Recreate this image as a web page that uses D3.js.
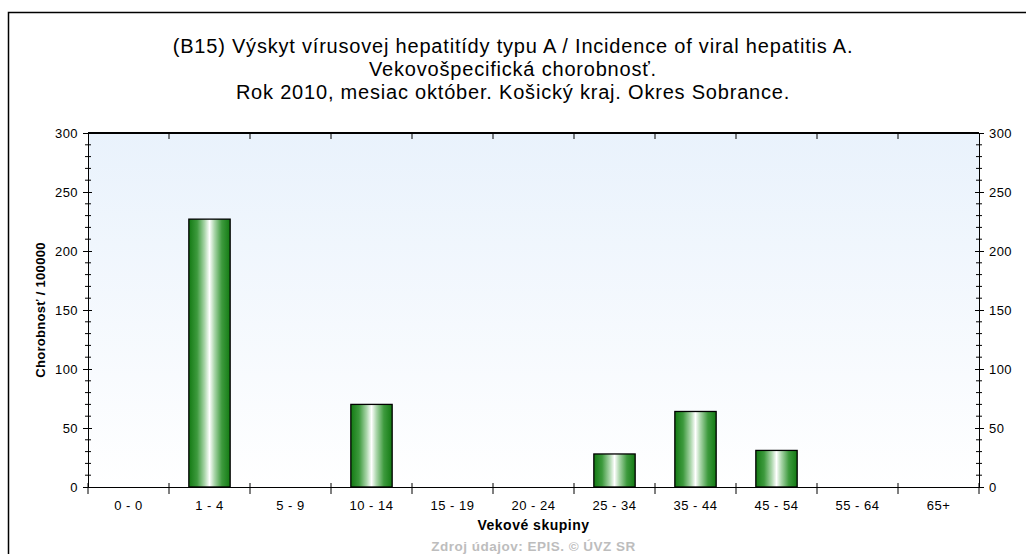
<!DOCTYPE html>
<html>
<head>
<meta charset="utf-8">
<script src="https://cdn.jsdelivr.net/npm/d3@7"></script>
<style>
  body { margin: 0; background: #fff; }
  text { font-family: "Liberation Sans", Arial, sans-serif; }
</style>
</head>
<body>
<script>
var width = 1026,
    height = 554;

// age groups and incidence per 100000
var groups = ["0 - 0", "1 - 4", "5 - 9", "10 - 14", "15 - 19", "20 - 24", "25 - 34", "35 - 44", "45 - 54", "55 - 64", "65+"];
var values = [0, 227, 0, 70, 0, 0, 28, 64, 31, 0, 0];
var yTicks = [0, 50, 100, 150, 200, 250, 300];
var titleLines = [
  "(B15) Výskyt vírusovej hepatitídy typu A / Incidence of viral hepatitis A.",
  "Vekovošpecifická chorobnosť.",
  "Rok 2010, mesiac október. Košický kraj. Okres Sobrance."
];

var plot = { left: 88, right: 979, top: 133, bottom: 487 };

var svg = d3.select('body').append('svg')
    .attr('width', width)
    .attr('height', height);

var defs = svg.append('defs');

var bg = defs.append('linearGradient')
    .attr('id', 'bg').attr('x1', 0).attr('y1', 0).attr('x2', 0).attr('y2', 1);
bg.append('stop').attr('offset', '0%').attr('stop-color', '#e9f2fc');
bg.append('stop').attr('offset', '100%').attr('stop-color', '#ffffff');

var barGrad = defs.append('linearGradient')
    .attr('id', 'bar').attr('x1', 0).attr('y1', 0).attr('x2', 1).attr('y2', 0);
[[0, '#137a13'], [0.2, '#3d9a3d'], [0.38, '#a9d5a9'], [0.5, '#ffffff'], [0.62, '#a9d5a9'], [0.8, '#3d9a3d'], [1, '#137a13']]
  .forEach(function(s) {
    barGrad.append('stop').attr('offset', s[0] * 100 + '%').attr('stop-color', s[1]);
  });

// outer frame (left and top edges only)
svg.append('path')
    .attr('d', 'M8.5,' + height + 'V12.5H' + width)
    .attr('fill', 'none')
    .attr('stroke', '#000')
    .attr('stroke-width', 1.5);

/* ============================ TITLE ============================ */
svg.append('g').selectAll('text')
    .data(titleLines)
  .enter().append('text')
    .attr('x', 513)
    .attr('y', function(d, i) { return 53 + i * 23; })
    .attr('text-anchor', 'middle')
    .style('font-size', '20px')
    .style('letter-spacing', '0.8px')
    .text(function(d) { return d; });

/* ============================ SCALES ============================ */
var x = d3.scaleBand()
    .domain(groups)
    .range([plot.left, plot.right]);

var y = d3.scaleLinear()
    .domain([0, 300])
    .range([plot.bottom, plot.top]);

svg.append('rect')
    .attr('x', plot.left)
    .attr('y', plot.top)
    .attr('width', plot.right - plot.left)
    .attr('height', plot.bottom - plot.top)
    .attr('fill', 'url(#bg)');

/* ============================ BARS ============================ */
var bw = x.bandwidth() * 0.51;
svg.append('g').selectAll('rect')
    .data(values.map(function(v, i) { return { g: groups[i], v: v }; }).filter(function(d) { return d.v > 0; }))
  .enter().append('rect')
    .attr('x', function(d) { return x(d.g) + (x.bandwidth() - bw) / 2; })
    .attr('y', function(d) { return y(d.v); })
    .attr('width', bw)
    .attr('height', function(d) { return y(0) - y(d.v); })
    .attr('fill', 'url(#bar)')
    .attr('stroke', '#000')
    .attr('stroke-width', 1.3);

/* ============================ AXES ============================ */
var minor = d3.range(0, 301, 10);

function yAxis(side) {
  var ax = side === 'left' ? d3.axisLeft(y) : d3.axisRight(y);
  var xpos = side === 'left' ? plot.left : plot.right;
  var g = svg.append('g')
      .attr('transform', 'translate(' + xpos + ',0)')
      .call(ax.tickValues(yTicks).tickSize(5).tickPadding(5).tickFormat(d3.format('d')));
  g.select('.domain').attr('stroke', '#000');
  g.selectAll('.tick line')
      .attr('x1', side === 'left' ? 4 : -4)
      .attr('x2', side === 'left' ? -5 : 5);
  g.selectAll('.tick text')
      .style('font-size', '13px')
      .style('letter-spacing', '0.4px')
      .style('font-family', '"Liberation Sans", Arial, sans-serif')
      .attr('fill', '#000');
  g.selectAll('.minor')
      .data(minor.filter(function(v) { return v % 50 !== 0; }))
    .enter().append('line')
      .attr('class', 'minor')
      .attr('x1', -3).attr('x2', 3)
      .attr('y1', function(d) { return y(d); })
      .attr('y2', function(d) { return y(d); })
      .attr('stroke', '#000');
}
yAxis('left');
yAxis('right');

var xAxis = svg.append('g')
    .attr('transform', 'translate(0,' + plot.bottom + ')')
    .call(d3.axisBottom(x).tickSize(0).tickPadding(14));
xAxis.select('.domain').attr('stroke', '#000');
xAxis.selectAll('.tick text')
    .style('font-size', '13px')
    .style('letter-spacing', '0.5px')
    .style('font-family', '"Liberation Sans", Arial, sans-serif')
    .attr('fill', '#000');

// ticks at category boundaries, bottom and top
var bounds = groups.map(function(g) { return x(g); }).concat([plot.right]);
svg.append('g').selectAll('line')
    .data(bounds)
  .enter().append('line')
    .attr('x1', function(d) { return d; })
    .attr('x2', function(d) { return d; })
    .attr('y1', plot.bottom - 4)
    .attr('y2', plot.bottom + 7)
    .attr('stroke', '#000');

svg.append('line')
    .attr('x1', plot.left).attr('x2', plot.right)
    .attr('y1', plot.top).attr('y2', plot.top)
    .attr('stroke', '#000')
    .attr('stroke-width', 2);
svg.append('g').selectAll('line')
    .data(bounds.slice(1, -1))
  .enter().append('line')
    .attr('x1', function(d) { return d; })
    .attr('x2', function(d) { return d; })
    .attr('y1', plot.top)
    .attr('y2', plot.top + 6)
    .attr('stroke', '#000');

/* ============================ LABELS ============================ */
svg.append('text')
    .attr('transform', 'translate(45,' + (plot.top + plot.bottom) / 2 + ') rotate(-90)')
    .attr('text-anchor', 'middle')
    .style('font-size', '13px')
    .style('letter-spacing', '0.3px')
    .style('font-weight', 'bold')
    .text('Chorobnosť / 100000');

svg.append('text')
    .attr('x', (plot.left + plot.right) / 2)
    .attr('y', 530)
    .attr('text-anchor', 'middle')
    .style('font-size', '14px')
    .style('letter-spacing', '0.5px')
    .style('font-weight', 'bold')
    .text('Vekové skupiny');

svg.append('text')
    .attr('x', (plot.left + plot.right) / 2)
    .attr('y', 551)
    .attr('text-anchor', 'middle')
    .style('font-size', '13.5px')
    .style('letter-spacing', '0.5px')
    .style('font-weight', 'bold')
    .attr('fill', '#bdbdbd')
    .text('Zdroj údajov: EPIS. © ÚVZ SR');
</script>
</body>
</html>
